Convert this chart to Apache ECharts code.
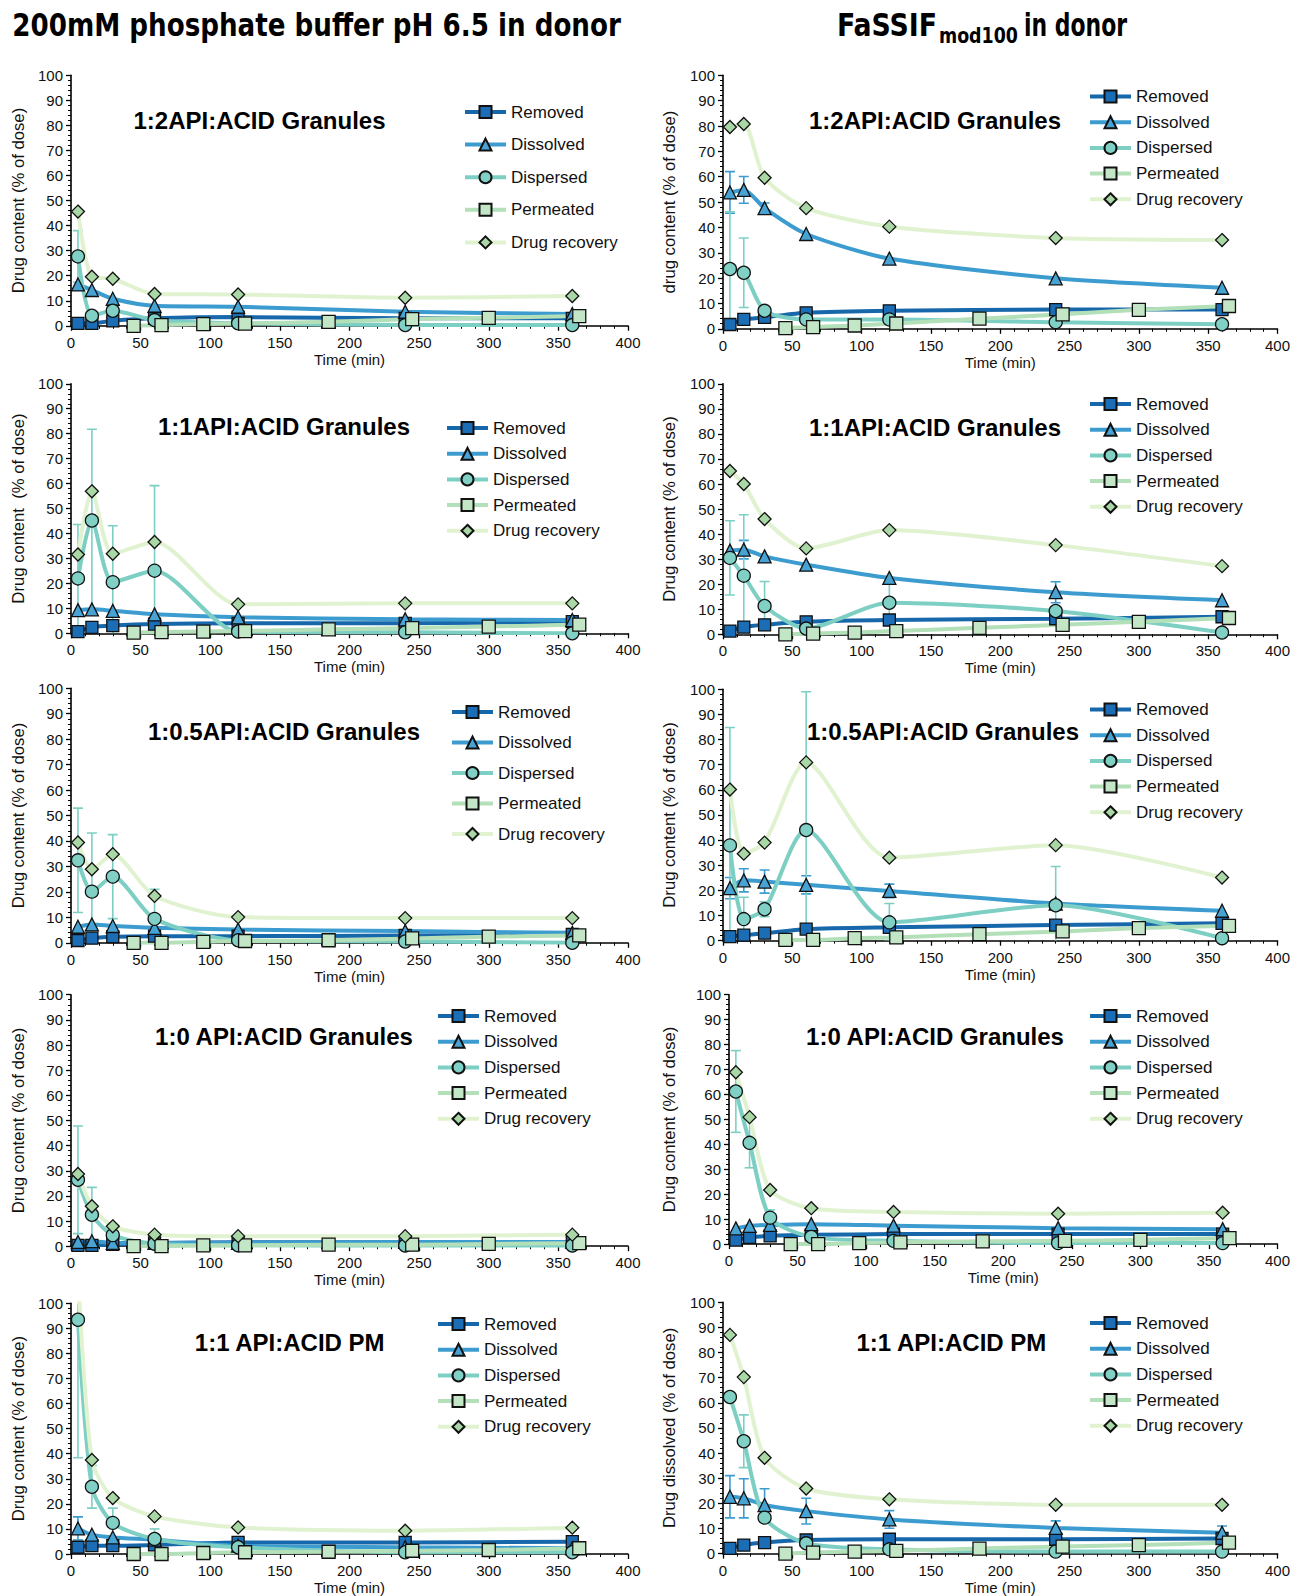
<!DOCTYPE html>
<html><head><meta charset="utf-8">
<script src="https://cdn.jsdelivr.net/npm/echarts@6/dist/echarts.min.js"></script>
<style>html,body{margin:0;padding:0;background:#fff}#c{width:1293px;height:1596px}</style>
</head><body><div id="c"></div>
<script>
// ---------- shared categories ----------
const tMain = [5, 15, 30, 60, 120, 240, 360];
const tPerm = [45, 65, 95, 125, 185, 245, 300, 365];
const seriesNames = ['Removed', 'Dissolved', 'Dispersed', 'Permeated', 'Drug recovery'];
const xTickStep = 50, yTickStep = 10;

// ---------- A: phosphate buffer, 1:2 granules ----------
const A_removed   = [1, 1, 2, 3, 3.5, 3, 3];
const A_dissolved = [16.5, 14.3, 10.8, 8, 7.6, 5.6, 4.7];
const A_dispersed = [27.7, 4, 6, 2.3, 1, 0.3, 0.3];
const A_permeated = [0, 0.3, 0.7, 0.9, 1.6, 2.7, 3.2, 3.9];
const A_recovery  = [45.6, 19.6, 18.8, 12.7, 12.5, 11.2, 11.9];
const A_dissolvedSD = [null, null, null, null, null, null, null];
const A_dispersedSD = [10.3, null, null, null, null, null, null];

// ---------- B: FaSSIF, 1:2 granules ----------
const B_removed   = [1.7, 3.7, 4.5, 6.3, 7.1, 7.6, 7.6];
const B_dissolved = [53.8, 54.8, 47.6, 37.4, 27.7, 19.9, 16.2];
const B_dispersed = [23.6, 22.1, 7.1, 3.7, 3.7, 2.6, 1.8];
const B_permeated = [0.3, 0.7, 1.3, 2.1, 4, 5.7, 7.5, 9];
const B_recovery  = [79.6, 80.8, 59.6, 47.6, 40.3, 35.8, 35];
const B_dissolvedSD = [8.2, 5.3, 2, null, null, null, null];
const B_dispersedSD = [22.6, 13.7, null, null, null, null, null];

// ---------- C: phosphate buffer, 1:1 granules ----------
const C_removed   = [0.7, 2.4, 3.1, 3.7, 4, 4, 4.7];
const C_dissolved = [9.3, 9.6, 9, 7.6, 6.4, 5.6, 5.3];
const C_dispersed = [22, 45.2, 20.5, 25.1, 0.7, 0.4, 0];
const C_permeated = [0.3, 0.5, 0.7, 0.9, 1.6, 2.1, 2.7, 3.5];
const C_recovery  = [31.6, 56.9, 31.9, 36.6, 11.6, 12, 12];
const C_dissolvedSD = [null, null, null, null, null, null, null];
const C_dispersedSD = [21.6, 36.6, 22.6, 34.1, null, null, null];

// ---------- D: FaSSIF, 1:1 granules ----------
const D_removed   = [1.3, 2.9, 3.8, 5, 5.7, 6.2, 7];
const D_dissolved = [33.4, 33.8, 31.1, 27.8, 22.5, 16.8, 13.6];
const D_dispersed = [30.5, 23.4, 11.3, 2.3, 12.6, 9.3, 0.7];
const D_permeated = [0, 0.3, 0.7, 1.3, 2.6, 3.8, 5, 6.5];
const D_recovery  = [65.2, 60, 46, 34.3, 41.6, 35.6, 27.2];
const D_dissolvedSD = [null, 3.7, null, null, null, 4.2, null];
const D_dispersedSD = [14.8, 24.3, 9.8, null, 9, null, null];

// ---------- E: phosphate buffer, 1:0.5 granules ----------
const E_removed   = [0.9, 1.8, 2.4, 2.6, 2.6, 2.9, 3.3];
const E_dissolved = [6.3, 7.2, 6.6, 5.9, 5.2, 4.6, 3.9];
const E_dispersed = [32.4, 20.1, 26, 9.4, 1, 0.5, 0];
const E_permeated = [0, 0, 0.4, 0.7, 1, 1.7, 2.4, 2.9];
const E_recovery  = [39.4, 28.9, 34.8, 18.4, 10.1, 9.7, 9.7];
const E_dissolvedSD = [null, null, null, null, null, null, null];
const E_dispersedSD = [20.5, 23, 16.5, 11.6, null, null, null];

// ---------- F: FaSSIF, 1:0.5 granules ----------
const F_removed   = [1.6, 2.2, 3, 4.6, 5.3, 6.2, 6.9];
const F_dissolved = [20.9, 24, 23.5, 22.2, 19.8, 14.8, 11.9];
const F_dispersed = [37.9, 8.6, 12.5, 44, 7.3, 14.1, 1];
const F_permeated = [0.3, 0.3, 1, 1.3, 2.6, 3.7, 5, 5.9];
const F_recovery  = [60.1, 34.6, 39, 70.9, 33, 38, 25.1];
const F_dissolvedSD = [4.2, 4.6, 4.6, 3.6, 2.7, null, null];
const F_dispersedSD = [46.9, 8.7, 3, 55, 7.5, 15.4, null];

// ---------- G: phosphate buffer, 1:0 granules ----------
const G_removed   = [0.3, 0.3, 0.7, 1.3, 1.6, 1.6, 1.7];
const G_dissolved = [1.7, 2, 1.3, 1.3, 1.3, 1.7, 1.7];
const G_dispersed = [26.4, 12.5, 4.4, 1, 0.4, 0.3, 0.3];
const G_permeated = [0, 0, 0.3, 0.3, 0.6, 0.6, 0.9, 1.2];
const G_recovery  = [28.7, 15.9, 7.9, 4.6, 4, 4, 4.6];
const G_dissolvedSD = [null, null, null, null, null, null, null];
const G_dispersedSD = [21.4, 10.9, null, null, null, null, null];

// ---------- H: FaSSIF, 1:0 granules ----------
const H_removed   = [1.6, 2.7, 3.3, 3.7, 4, 4, 4];
const H_dissolved = [6.3, 7.3, 7.7, 8, 7.4, 6.4, 6];
const H_dispersed = [61.2, 40.6, 10.6, 2.9, 1.3, 0.4, 0.4];
const H_permeated = [0, 0, 0.4, 0.7, 1.1, 1.3, 1.7, 2.4];
const H_recovery  = [68.9, 50.9, 21.7, 14.4, 12.9, 12.2, 12.6];
const H_dissolvedSD = [null, null, null, null, null, null, null];
const H_dispersedSD = [16.4, 10, 3.1, null, null, null, null];

// ---------- I: phosphate buffer, 1:1 PM ----------
const I_removed   = [2.7, 3.3, 3.3, 3.6, 4.6, 4.6, 4.9];
const I_dissolved = [10.2, 7.7, 6.6, 5.7, 3.3, 2.7, 2.3];
const I_dispersed = [93.4, 26.8, 12.4, 6, 2.7, 0.7, 0.7];
const I_permeated = [0, 0, 0.4, 0.7, 0.9, 1.3, 1.6, 2.3];
const I_recovery  = [112, 37.5, 22.3, 15, 10.6, 9.3, 10.5];
const I_dissolvedSD = [4.6, null, null, null, null, null, null];
const I_dispersedSD = [55, 8.5, 5.9, 4, null, null, null];

// ---------- J: FaSSIF, 1:1 PM ----------
const J_removed   = [2.1, 3.4, 4.4, 5.4, 5.7, 5.7, 6];
const J_dissolved = [22.6, 22, 19.3, 16.9, 13.6, 10.2, 8.3];
const J_dispersed = [62.3, 44.7, 14.3, 4.1, 1.7, 0.8, 0.8];
const J_permeated = [0, 0.4, 0.8, 1.1, 2, 2.8, 3.4, 4.4];
const J_recovery  = [87, 70.2, 38.1, 25.9, 21.6, 19.4, 19.4];
const J_dissolvedSD = [8.4, 7.8, 6.5, 5.1, 3.5, 2.8, 2.7];
const J_dispersedSD = [null, 10.5, null, null, null, null, null];

// ---------- panel layout ----------
const panels = [
  {title:'1:2API:ACID Granules', yName:'Drug content (% of dose)', g:[71,75.3,557,250.5], tp:[259.5,120], lg:[458,98,32.6], yGap:44,
   d:[A_removed,A_dissolved,A_dispersed,A_permeated,A_recovery], sd:[A_dissolvedSD,A_dispersedSD]},
  {title:'1:2API:ACID Granules', yName:'drug content (% of dose)', g:[723,75.3,555,253.5], tp:[935,120], lg:[1083,82.5,25.7], yGap:45,
   d:[B_removed,B_dissolved,B_dispersed,B_permeated,B_recovery], sd:[B_dissolvedSD,B_dispersedSD]},
  {title:'1:1API:ACID Granules', yName:'Drug content  (% of dose)', g:[71,383.8,557,249.5], tp:[284,426.6], lg:[440,414,25.7], yGap:44,
   d:[C_removed,C_dissolved,C_dispersed,C_permeated,C_recovery], sd:[C_dissolvedSD,C_dispersedSD]},
  {title:'1:1API:ACID Granules', yName:'Drug content (% of dose)', g:[723,383.8,555,250.5], tp:[935,427.6], lg:[1083,390,25.7], yGap:45,
   d:[D_removed,D_dissolved,D_dispersed,D_permeated,D_recovery], sd:[D_dissolvedSD,D_dispersedSD]},
  {title:'1:0.5API:ACID Granules', yName:'Drug content (% of dose)', g:[71,688.2,557,254.6], tp:[284,731], lg:[445,698,30.5], yGap:44,
   d:[E_removed,E_dissolved,E_dispersed,E_permeated,E_recovery], sd:[E_dissolvedSD,E_dispersedSD]},
  {title:'1:0.5API:ACID Granules', yName:'Drug content (% of dose)', g:[723,689.2,555,251.5], tp:[943,731], lg:[1083,695.5,25.7], yGap:45,
   d:[F_removed,F_dissolved,F_dispersed,F_permeated,F_recovery], sd:[F_dissolvedSD,F_dispersedSD]},
  {title:'1:0 API:ACID Granules', yName:'Drug content (% of dose)', g:[71,994.7,557,251.5], tp:[284,1036.4], lg:[431,1002,25.7], yGap:44,
   d:[G_removed,G_dissolved,G_dispersed,G_permeated,G_recovery], sd:[G_dissolvedSD,G_dispersedSD]},
  {title:'1:0 API:ACID Granules', yName:'Drug content (% of dose)', g:[729,994.7,549,249.4], tp:[935,1036.4], lg:[1083,1002,25.7], yGap:51,
   d:[H_removed,H_dissolved,H_dispersed,H_permeated,H_recovery], sd:[H_dissolvedSD,H_dispersedSD]},
  {title:'1:1 API:ACID PM', yName:'Drug content (% of dose)', g:[71,1303.2,557,251.4], tp:[289.7,1342.9], lg:[431,1310,25.7], yGap:44,
   d:[I_removed,I_dissolved,I_dispersed,I_permeated,I_recovery], sd:[I_dissolvedSD,I_dispersedSD]},
  {title:'1:1 API:ACID PM', yName:'Drug dissolved (% of dose)', g:[723,1302.2,555,251.4], tp:[951.4,1342.9], lg:[1083,1309,25.7], yGap:45,
   d:[J_removed,J_dissolved,J_dispersed,J_permeated,J_recovery], sd:[J_dissolvedSD,J_dispersedSD]}
];

const FONT = '"Liberation Sans", Arial, sans-serif';
const styles = [
  {line:'#1767ab', fill:'#1b6db5', symbol:'rect', size:12},
  {line:'#3c9ccf', fill:'#47a3d3', symbol:'triangle', size:13},
  {line:'#7dcfc4', fill:'#80d0c6', symbol:'circle', size:13},
  {line:'#b3dfb9', fill:'#c3e7c6', symbol:'rect', size:13},
  {line:'#e1f2d1', fill:'#a9d8a6', symbol:'diamond', size:13}
];

function errRender(color) {
  return function (params, api) {
    const x = api.value(0), lo = api.value(1), hi = api.value(2);
    const a = api.coord([x, lo]), b = api.coord([x, hi]);
    const w = 5, st = {stroke: color, lineWidth: 1.6};
    return {type: 'group', children: [
      {type: 'line', shape: {x1: a[0], y1: a[1], x2: b[0], y2: b[1]}, style: st},
      {type: 'line', shape: {x1: a[0] - w, y1: a[1], x2: a[0] + w, y2: a[1]}, style: st},
      {type: 'line', shape: {x1: b[0] - w, y1: b[1], x2: b[0] + w, y2: b[1]}, style: st}
    ]};
  };
}

const option = {animation: false, backgroundColor: '#fff', textStyle: {fontFamily: FONT},
  grid: [], xAxis: [], yAxis: [], series: [], legend: [], graphic: []};

panels.forEach((p, k) => {
  option.grid.push({left: p.g[0], top: p.g[1], width: p.g[2], height: p.g[3]});
  option.xAxis.push({type: 'value', gridIndex: k, min: 0, max: 400, interval: xTickStep,
    axisLine: {onZero: false, lineStyle: {color: '#000', width: 1.6}},
    axisTick: {length: 5, lineStyle: {color: '#000', width: 1.3}},
    minorTick: {show: true, splitNumber: 5, length: 3, lineStyle: {color: '#000', width: 1}},
    splitLine: {show: false},
    axisLabel: {fontFamily: FONT, fontSize: 15, color: '#111', margin: 9},
    name: 'Time (min)', nameLocation: 'middle', nameGap: 26,
    nameTextStyle: {fontFamily: FONT, fontSize: 15, color: '#111'}});
  option.yAxis.push({type: 'value', gridIndex: k, min: 0, max: 100, interval: yTickStep,
    axisLine: {show: true, onZero: false, lineStyle: {color: '#000', width: 1.6}},
    axisTick: {show: true, length: 5, lineStyle: {color: '#000', width: 1.3}},
    minorTick: {show: true, splitNumber: 5, length: 3, lineStyle: {color: '#000', width: 1}},
    splitLine: {show: false},
    axisLabel: {fontFamily: FONT, fontSize: 15, color: '#111', margin: 8},
    name: p.yName, nameLocation: 'middle', nameGap: p.yGap,
    nameTextStyle: {fontFamily: FONT, fontSize: 16.7, color: '#111'}});

  // error bars (Dissolved, Dispersed)
  [[1, p.sd[0]], [2, p.sd[1]]].forEach(([si, sdArr]) => {
    const vals = p.d[si];
    const data = [];
    tMain.forEach((t, i) => { if (sdArr[i] != null) data.push([t, vals[i] - sdArr[i], vals[i] + sdArr[i]]); });
    if (data.length) option.series.push({type: 'custom', name: 'err', xAxisIndex: k, yAxisIndex: k,
      clip: true, silent: true, z: 1, renderItem: errRender(styles[si].line),
      encode: {x: 0, y: [1, 2]}, data: data});
  });

  seriesNames.forEach((nm, si) => {
    const xs = si === 3 ? tPerm : tMain;
    const st = styles[si];
    option.series.push({type: 'line', name: nm, xAxisIndex: k, yAxisIndex: k, z: 2,
      smooth: 0.25, clip: true, symbol: st.symbol, symbolSize: st.size, showAllSymbol: true,
      lineStyle: {color: st.line, width: 4},
      itemStyle: {color: st.fill, borderColor: '#111', borderWidth: 1.3},
      data: xs.map((t, i) => [t, p.d[si][i]])});
  });

  option.legend.push({orient: 'vertical', left: p.lg[0], top: p.lg[1], itemWidth: 41, itemHeight: 15,
    itemGap: p.lg[2] - 18, selectedMode: false, data: seriesNames,
    lineStyle: {width: 4},
    textStyle: {fontFamily: FONT, fontSize: 17, color: '#111', lineHeight: 18}});

  option.graphic.push({type: 'text', x: p.tp[0], y: p.tp[1], silent: true,
    style: {text: p.title, font: 'bold 24px ' + FONT, fill: '#000', textAlign: 'center', textVerticalAlign: 'middle'}});
});

// ---------- column headings ----------
const HFONT = '"Liberation Sans Narrow", "DejaVu Sans Condensed", "Liberation Sans", sans-serif';
const ctx = document.createElement('canvas').getContext('2d');
function mw(txt, font) { ctx.font = font; return ctx.measureText(txt).width; }
const leftHead = '200mM phosphate buffer pH 6.5 in donor';
const hMain = 'bold 32px ' + HFONT, hSub = 'bold 21px ' + HFONT;
const sx = 609 / mw(leftHead, hMain);
option.graphic.push({type: 'text', x: 316.6, y: 25, scaleX: sx, silent: true,
  style: {text: leftHead, font: hMain, fill: '#000', textAlign: 'center', textVerticalAlign: 'middle'}});
// right heading: FaSSIF + subscript mod100 + in donor, parts fitted to the reference widths
const rParts = [
  {t: 'FaSSIF', f: hMain, x: 837, w: 100, y: 25},
  {t: 'mod100', f: hSub, x: 939, w: 79, y: 36},
  {t: 'in donor', f: hMain, x: 1024, w: 103, y: 25}
];
rParts.forEach(q => {
  option.graphic.push({type: 'text', x: q.x, y: q.y, scaleX: q.w / mw(q.t, q.f), silent: true,
    style: {text: q.t, font: q.f, fill: '#000', textAlign: 'left', textVerticalAlign: 'middle'}});
});

const chart = echarts.init(document.getElementById('c'), null, {renderer: 'svg'});
chart.setOption(option);
</script>
</body></html>
